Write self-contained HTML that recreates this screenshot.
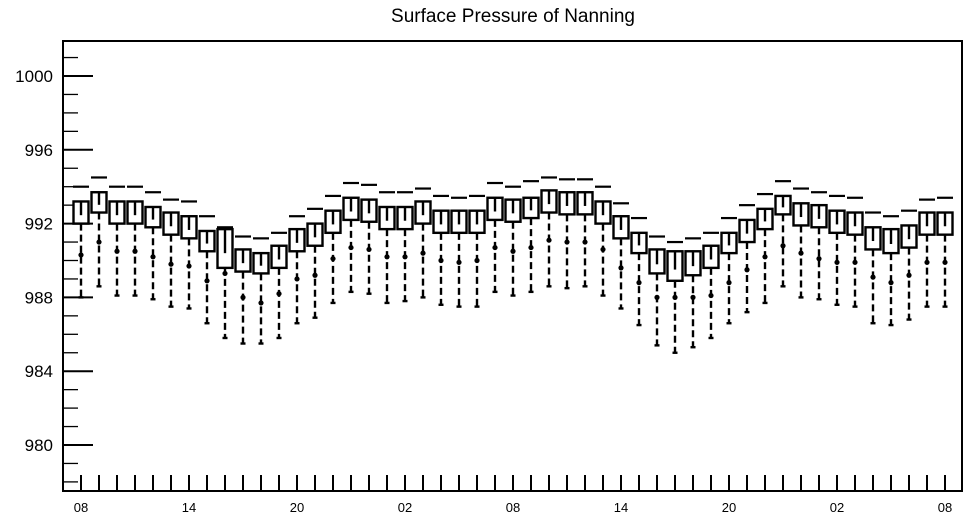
<!DOCTYPE html>
<html><head><meta charset="utf-8"><style>
html,body{margin:0;padding:0;background:#fff;}
svg{display:block;font-family:"Liberation Sans",Arial,sans-serif;}
</style></head><body>
<svg id="chart" width="968" height="520" viewBox="0 0 968 520" xmlns="http://www.w3.org/2000/svg">
<text x="513" y="22" font-size="19" text-anchor="middle" fill="#000">Surface Pressure of Nanning</text>
<rect x="63" y="41" width="899" height="450" fill="none" stroke="#000" stroke-width="2"/>
<g id="axes"></g>
<g id="marks"></g>
</svg>
<script>
const xLabels = ["08","14","20","02","08","14","20","02","08"];
const yTicks = [980, 984, 988, 992, 996, 1000];
const maxV = [994.0,994.5,994.0,994.0,993.7,993.3,993.2,992.4,991.8,991.3,991.2,991.5,992.4,992.8,993.5,994.2,994.1,993.7,993.7,993.9,993.5,993.4,993.5,994.2,994.0,994.3,994.5,994.4,994.4,994.0,993.1,992.3,991.3,991.0,991.2,991.5,992.3,993.0,993.6,994.3,993.9,993.7,993.5,993.4,992.6,992.4,992.7,993.3,993.4];
const q3V = [993.2,993.7,993.2,993.2,992.9,992.6,992.4,991.6,991.7,990.6,990.4,990.8,991.7,992.0,992.7,993.4,993.3,992.9,992.9,993.2,992.7,992.7,992.7,993.4,993.3,993.4,993.8,993.7,993.7,993.2,992.4,991.5,990.6,990.5,990.5,990.8,991.5,992.2,992.8,993.5,993.1,993.0,992.7,992.6,991.8,991.7,991.9,992.6,992.6];
const q1V = [992.0,992.6,992.0,992.0,991.8,991.4,991.2,990.5,989.6,989.4,989.3,989.6,990.5,990.8,991.5,992.2,992.1,991.7,991.7,992.0,991.5,991.5,991.5,992.2,992.1,992.3,992.6,992.5,992.5,992.0,991.2,990.4,989.3,988.9,989.2,989.6,990.4,991.0,991.7,992.5,991.9,991.8,991.5,991.4,990.6,990.4,990.7,991.4,991.4];
const meanV = [990.3,991.0,990.5,990.5,990.2,989.8,989.7,988.9,989.3,988.0,987.7,988.2,989.0,989.2,990.1,990.7,990.6,990.2,990.2,990.4,990.0,989.9,990.0,990.7,990.5,990.7,991.1,991.0,991.0,990.6,989.6,988.8,988.0,988.0,988.0,988.1,988.8,989.5,990.2,990.8,990.4,990.1,989.9,989.9,989.1,988.8,989.2,989.9,989.9];
const minV = [988.0,988.6,988.1,988.1,987.9,987.5,987.4,986.6,985.8,985.5,985.5,985.8,986.6,986.9,987.7,988.3,988.2,987.7,987.8,988.0,987.6,987.5,987.5,988.3,988.1,988.3,988.6,988.5,988.6,988.1,987.4,986.5,985.4,985.0,985.3,985.8,986.6,987.2,987.7,988.6,988.0,987.9,987.6,987.5,986.6,986.5,986.8,987.5,987.5];

const NS = "http://www.w3.org/2000/svg";
const yScale = v => 76 + (1000 - v) * 18.45;
const xScale = i => 81 + i * 18;
function mk(tag, attrs, parent){ const e=document.createElementNS(NS,tag); for(const k in attrs) e.setAttribute(k,attrs[k]); parent.appendChild(e); return e; }
const axes = document.getElementById("axes");
const marks = document.getElementById("marks");

// y minor ticks (every 1 hPa)
for (let v = 978; v <= 1001; v++) {
  const y = yScale(v);
  if (y < 42 || y > 490) continue;
  const major = yTicks.includes(v);
  const t = mk("line",{x1:63,x2:major?93:78,y1:y,y2:y,stroke:"#000","stroke-width":major?2:1.3},axes);
  
  
}
yTicks.forEach(v => {
  const t = mk("text",{x:53,y:yScale(v)+6,"font-size":17,"text-anchor":"end",fill:"#000"},axes);
  t.textContent = String(v);
  
  
});
// x ticks
for (let i = 0; i < maxV.length; i++) {
  const t = mk("line",{x1:xScale(i),x2:xScale(i),y1:475,y2:491,stroke:"#000","stroke-width":2},axes);
  
  
}
xLabels.forEach((s, k) => {
  const t = mk("text",{x:xScale(k*6),y:512,"font-size":13,"text-anchor":"middle",fill:"#000"},axes);
  t.textContent = s;
  
  
});

for (let i = 0; i < maxV.length; i++) {
  const x = xScale(i);
  const g = mk("g",{},marks);
  
  
  const yTop = yScale(q3V[i]), yBot = yScale(q1V[i]);
  const cap = mk("line",{x1:x-8,x2:x+8,y1:yScale(maxV[i]),y2:yScale(maxV[i]),stroke:"#000","stroke-width":2.2},g);
  
  
  const wh = mk("line",{x1:x,x2:x,y1:yBot,y2:yScale(minV[i]),stroke:"#000","stroke-width":2.4,"stroke-dasharray":"7,4"},g);
  
  
  const mc = mk("line",{x1:x-2.5,x2:x+2.5,y1:yScale(minV[i]),y2:yScale(minV[i]),stroke:"#000","stroke-width":2.4},g);
  
  
  const dot = mk("circle",{cx:x,cy:yScale(meanV[i]),r:2.6,fill:"#000"},g);
  
  
  const box = mk("rect",{x:x-7.5,y:yTop,width:15,height:yBot-yTop,fill:"#fff",stroke:"#000","stroke-width":2.4},g);
  
  
  const inner = mk("line",{x1:x,x2:x,y1:yTop,y2:yTop+(yBot-yTop)*0.62,stroke:"#000","stroke-width":2.4},g);
  
  
}
</script>
</body></html>
